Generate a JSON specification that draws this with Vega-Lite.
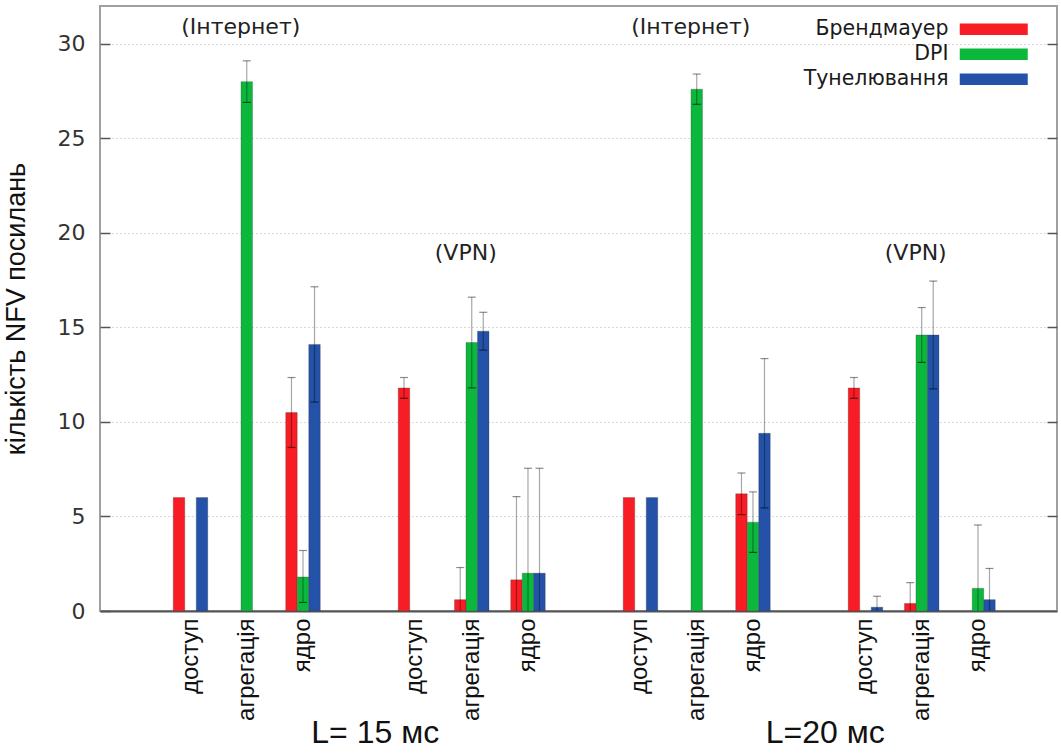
{
  "$schema": "https://vega.github.io/schema/vega-lite/v6.json",
  "width": 957,
  "height": 605,
  "autosize": {"type": "none"},
  "padding": {"left": 100, "top": 6, "right": 4, "bottom": 145},
  "background": "white",
  "config": {
    "view": {"stroke": "#a0a0a0", "strokeWidth": 2}
  },
  "datasets": {
    "bars": [
      {"slot": "15I|доступ", "series": "Брендмауер", "value": 6, "lo": null, "hi": null},
      {"slot": "15I|доступ", "series": "Тунелювання", "value": 6, "lo": null, "hi": null},
      {"slot": "15I|агрегація", "series": "DPI", "value": 28, "lo": 26.9, "hi": 29.1},
      {"slot": "15I|ядро", "series": "Брендмауер", "value": 10.5, "lo": 8.65, "hi": 12.35},
      {"slot": "15I|ядро", "series": "DPI", "value": 1.8, "lo": 0.45, "hi": 3.2},
      {"slot": "15I|ядро", "series": "Тунелювання", "value": 14.1, "lo": 11.05, "hi": 17.15},
      {"slot": "15V|доступ", "series": "Брендмауер", "value": 11.8, "lo": 11.25, "hi": 12.35},
      {"slot": "15V|агрегація", "series": "Брендмауер", "value": 0.6, "lo": 0, "hi": 2.3},
      {"slot": "15V|агрегація", "series": "DPI", "value": 14.2, "lo": 11.8, "hi": 16.6},
      {"slot": "15V|агрегація", "series": "Тунелювання", "value": 14.8, "lo": 13.8, "hi": 15.8},
      {"slot": "15V|ядро", "series": "Брендмауер", "value": 1.65, "lo": 0, "hi": 6.05},
      {"slot": "15V|ядро", "series": "DPI", "value": 2.0, "lo": 0, "hi": 7.55},
      {"slot": "15V|ядро", "series": "Тунелювання", "value": 2.0, "lo": 0, "hi": 7.55},
      {"slot": "20I|доступ", "series": "Брендмауер", "value": 6, "lo": null, "hi": null},
      {"slot": "20I|доступ", "series": "Тунелювання", "value": 6, "lo": null, "hi": null},
      {"slot": "20I|агрегація", "series": "DPI", "value": 27.6, "lo": 26.8, "hi": 28.4},
      {"slot": "20I|ядро", "series": "Брендмауер", "value": 6.2, "lo": 5.1, "hi": 7.3},
      {"slot": "20I|ядро", "series": "DPI", "value": 4.7, "lo": 3.1, "hi": 6.3},
      {"slot": "20I|ядро", "series": "Тунелювання", "value": 9.4, "lo": 5.45, "hi": 13.35},
      {"slot": "20V|доступ", "series": "Брендмауер", "value": 11.8, "lo": 11.25, "hi": 12.35},
      {"slot": "20V|доступ", "series": "Тунелювання", "value": 0.2, "lo": 0, "hi": 0.78},
      {"slot": "20V|агрегація", "series": "Брендмауер", "value": 0.4, "lo": 0, "hi": 1.5},
      {"slot": "20V|агрегація", "series": "DPI", "value": 14.6, "lo": 13.15, "hi": 16.05},
      {"slot": "20V|агрегація", "series": "Тунелювання", "value": 14.6, "lo": 11.75, "hi": 17.45},
      {"slot": "20V|ядро", "series": "DPI", "value": 1.2, "lo": 0, "hi": 4.55},
      {"slot": "20V|ядро", "series": "Тунелювання", "value": 0.6, "lo": 0, "hi": 2.25}
    ],
    "notes": [
      {"slot": "15I|агрегація", "y": 30.9, "text": "(Інтернет)", "kind": "net"},
      {"slot": "15V|агрегація", "y": 18.95, "text": "(VPN)", "kind": "net"},
      {"slot": "20I|агрегація", "y": 30.9, "text": "(Інтернет)", "kind": "net"},
      {"slot": "20V|агрегація", "y": 18.95, "text": "(VPN)", "kind": "net"},
      {"slot": "g1|", "y": -6.45, "text": "L= 15 мс", "kind": "L"},
      {"slot": "g3|", "y": -6.45, "text": "L=20 мс", "kind": "L"}
    ]
  },
  "encoding": {
    "x": {
      "field": "slot",
      "type": "nominal",
      "scale": {
        "domain": ["g0|", "15I|доступ", "15I|агрегація", "15I|ядро", "g1|", "15V|доступ", "15V|агрегація", "15V|ядро", "g2|", "20I|доступ", "20I|агрегація", "20I|ядро", "g3|", "20V|доступ", "20V|агрегація", "20V|ядро", "g4|"],
        "paddingInner": 0.386,
        "paddingOuter": 0.2,
        "align": 0.755
      },
      "axis": {
        "title": null,
        "labelExpr": "split(datum.value, '|')[1]",
        "labelAngle": -90,
        "labelFont": "Liberation Sans",
        "labelFontSize": 24,
        "labelColor": "#111",
        "labelPadding": 7,
        "ticks": false,
        "grid": false,
        "domainColor": "#555",
        "domainWidth": 2
      }
    }
  },
  "layer": [
    {
      "data": {"name": "bars"},
      "mark": {"type": "bar", "stroke": "#333", "strokeWidth": 0.6, "strokeOpacity": 0.45},
      "encoding": {
        "xOffset": {"field": "series", "type": "nominal", "scale": {"domain": ["Брендмауер", "DPI", "Тунелювання"], "paddingInner": 0, "paddingOuter": 0}},
        "y": {
          "field": "value",
          "type": "quantitative",
          "scale": {"domain": [0, 32], "nice": false},
          "axis": {
            "title": "кількість NFV посилань",
            "values": [0, 5, 10, 15, 20, 25, 30],
            "grid": true,
            "gridDash": [1, 3],
            "gridColor": "#b0b0b0",
            "tickSize": -10,
            "tickColor": "#555",
            "tickWidth": 1.5,
            "labelPadding": 25,
            "labelFont": "DejaVu Sans",
            "labelFontSize": 22,
            "labelColor": "#333",
            "domain": false,
            "titleFont": "Liberation Sans",
            "titleFontSize": 27,
            "titleFontWeight": "normal",
            "titleColor": "#111",
            "titlePadding": 27
          }
        },
        "color": {
          "field": "series",
          "type": "nominal",
          "scale": {"domain": ["Брендмауер", "DPI", "Тунелювання"], "range": ["#f81c24", "#0cb83c", "#2452a8"]},
          "legend": {
            "title": null,
            "orient": "none",
            "legendX": 883.5,
            "legendY": 13,
            "padding": 0,
            "rowPadding": 4,
            "symbolType": "M-4,-0.68L4,-0.68L4,0.68L-4,0.68Z",
            "symbolSize": 289,
            "symbolStrokeWidth": 0,
            "symbolOpacity": 1,
            "labelAlign": "right",
            "labelOffset": -55.5,
            "labelFont": "DejaVu Sans",
            "labelFontSize": 20.5,
            "labelColor": "#1a1a1a",
            "labelLimit": 300
          }
        }
      }
    },
    {
      "data": {"name": "bars"},
      "transform": [{"filter": "datum.hi != null"}],
      "mark": {"type": "rule", "color": "#000", "opacity": 0.35, "strokeWidth": 1.2},
      "encoding": {
        "xOffset": {"field": "series", "type": "nominal"},
        "y": {
          "field": "lo",
          "type": "quantitative",
          "axis": {"orient": "right", "labels": false, "title": null, "grid": false, "domain": false, "tickSize": -10, "tickColor": "#555", "tickWidth": 1.5, "values": [5, 10, 15, 20, 25, 30]}
        },
        "y2": {"field": "hi"}
      }
    },
    {
      "data": {"name": "bars"},
      "transform": [{"filter": "datum.hi != null"}],
      "mark": {"type": "tick", "color": "#000", "opacity": 0.45, "thickness": 1.2, "size": 8},
      "encoding": {
        "xOffset": {"field": "series", "type": "nominal"},
        "y": {"field": "hi", "type": "quantitative", "axis": null}
      }
    },
    {
      "data": {"name": "bars"},
      "transform": [{"filter": "datum.lo != null && datum.lo > 0"}],
      "mark": {"type": "tick", "color": "#000", "opacity": 0.55, "thickness": 1.2, "size": 8},
      "encoding": {
        "xOffset": {"field": "series", "type": "nominal"},
        "y": {"field": "lo", "type": "quantitative", "axis": null}
      }
    },
    {
      "data": {"name": "notes"},
      "transform": [{"filter": "datum.kind == 'net'"}],
      "mark": {"type": "text", "font": "DejaVu Sans", "fontSize": 22, "color": "#222", "dx": -6, "baseline": "middle", "align": "center"},
      "encoding": {
        "y": {"field": "y", "type": "quantitative", "axis": null},
        "text": {"field": "text"}
      }
    },
    {
      "data": {"name": "notes"},
      "transform": [{"filter": "datum.kind == 'L'"}],
      "mark": {"type": "text", "font": "Liberation Sans", "fontSize": 32, "color": "#111", "dx": 16, "baseline": "middle", "align": "center"},
      "encoding": {
        "y": {"field": "y", "type": "quantitative", "axis": null},
        "text": {"field": "text"}
      }
    }
  ],
  "resolve": {"axis": {"y": "independent"}}
}
